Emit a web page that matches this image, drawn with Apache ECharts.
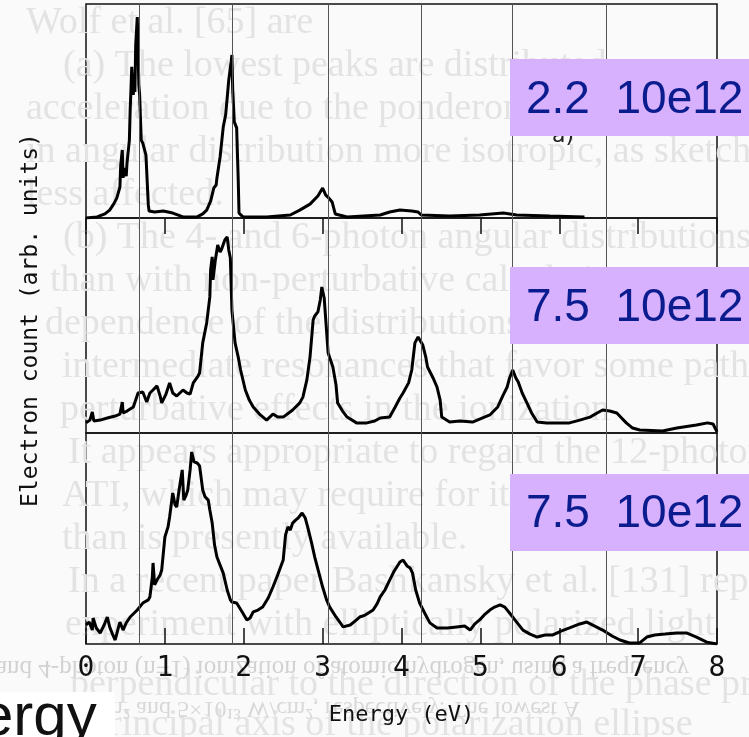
<!DOCTYPE html>
<html>
<head>
<meta charset="utf-8">
<script src="https://cdn.jsdelivr.net/npm/echarts@6/dist/echarts.min.js"></script>
<style>
html, body { margin: 0; padding: 0; background: #fafafa; }
#chart { width: 749px; height: 737px; }
</style>
</head>
<body>
<div id="chart"></div>
<script>
// energy (eV) / electron count (arb., 0-100 of panel height)
var spectrum_top = [
	[0.00,0],[0.14,0.5],[0.24,1.9],[0.30,3.7],[0.35,6.5],[0.39,9.3],[0.43,14.5],[0.44,24.8],[0.46,31.8],
	[0.47,18.7],[0.48,23.4],[0.51,19.6],[0.52,25.7],[0.55,36.4],[0.56,50.5],[0.57,59.8],[0.58,70.6],
	[0.60,57.5],[0.61,66.8],[0.62,58.9],[0.63,80.8],[0.65,93.9],[0.66,78.5],[0.67,62.1],[0.68,57.5],
	[0.70,36.4],[0.72,35],[0.76,29.4],[0.79,6.1],[0.80,3.3],[0.87,2.8],[0.98,3.3],[1.10,2.3],[1.23,0.5],
	[1.41,0.5],[1.48,1.9],[1.53,3.7],[1.58,7.9],[1.62,14.0],[1.65,15.4],[1.66,18.7],[1.70,28.5],
	[1.74,42.5],[1.77,48.1],[1.79,56.1],[1.81,64.5],[1.84,72.9],[1.85,76.2],[1.86,59.8],[1.88,44.9],
	[1.91,42.1],[1.93,17.8],[1.94,2.3],[1.99,0.5],[2.29,0.5],[2.59,1.4],[2.71,3.7],[2.84,6.5],
	[2.94,10.3],[3.00,14.0],[3.04,10.7],[3.08,9.3],[3.12,7.5],[3.16,1.9],[3.31,0.5],[3.73,1.4],
	[3.85,2.8],[3.98,3.7],[4.13,3.3],[4.21,2.8],[4.25,1.4],[4.61,0.9],[4.99,1.4],[5.29,2.3],
	[5.46,1.4],[5.88,0.9],[6.32,0.5]
];
var spectrum_mid = [
	[0.00,4.7],[0.05,6.0],[0.08,9.8],[0.10,5.6],[0.18,6.0],[0.27,7.0],[0.37,7.9],[0.43,8.8],[0.46,14.4],
	[0.47,9.3],[0.52,10.2],[0.60,12.1],[0.66,18.6],[0.72,19.1],[0.77,14.4],[0.81,18.6],[0.85,20.0],
	[0.90,21.9],[0.94,17.2],[0.96,14.0],[1.01,17.7],[1.06,23.3],[1.10,18.6],[1.15,17.2],[1.23,20.0],
	[1.28,18.6],[1.32,18.1],[1.36,23.3],[1.42,26.5],[1.44,27.9],[1.48,41.9],[1.53,51.2],[1.57,63.3],
	[1.58,75.8],[1.60,81.9],[1.61,71.2],[1.64,80.5],[1.67,87.4],[1.70,84.2],[1.72,85.6],[1.76,89.8],
	[1.79,91.2],[1.81,85.1],[1.83,81.4],[1.85,57.2],[1.89,41.9],[1.93,35.3],[1.96,29.3],[2.02,20.0],
	[2.07,15.3],[2.12,12.1],[2.21,8.4],[2.29,6.0],[2.37,8.8],[2.43,7.4],[2.50,7.4],[2.62,10.7],
	[2.71,14.0],[2.75,16.7],[2.80,24.7],[2.84,35.3],[2.88,52.6],[2.90,54.4],[2.94,56.3],[2.97,61.9],
	[2.99,67.9],[3.02,62.8],[3.04,61.9],[3.07,37.2],[3.13,30.7],[3.17,22.3],[3.19,14.0],[3.26,9.8],
	[3.31,7.4],[3.43,4.7],[3.56,4.7],[3.66,5.6],[3.73,7.0],[3.85,7.4],[3.92,12.1],[3.98,16.3],
	[4.02,18.6],[4.09,23.3],[4.13,29.3],[4.17,41.9],[4.21,44.7],[4.23,44.2],[4.27,40.9],[4.31,34.9],
	[4.33,30.7],[4.40,25.6],[4.45,21.4],[4.49,15.3],[4.51,7.4],[4.61,5.1],[4.74,5.6],[4.90,5.1],
	[5.12,8.4],[5.22,12.1],[5.29,17.7],[5.34,21.4],[5.37,25.6],[5.41,29.3],[5.45,25.6],[5.48,23.7],
	[5.53,18.6],[5.59,14.0],[5.65,9.3],[5.72,5.1],[5.84,4.7],[6.13,4.7],[6.26,6.0],[6.39,7.4],
	[6.48,9.3],[6.55,10.7],[6.64,10.2],[6.73,9.3],[6.79,7.0],[6.85,4.7],[6.93,2.3],[7.02,1.4],
	[7.31,0.9],[7.49,2.3],[7.74,3.7],[7.88,4.7],[7.95,4.2],[8.00,0.5]
];
var spectrum_bot = [
	[0.00,9.0],[0.04,10.4],[0.08,6.6],[0.09,12.3],[0.13,7.6],[0.18,5.2],[0.23,9.0],[0.27,12.8],
	[0.30,8.1],[0.34,4.3],[0.37,1.9],[0.41,7.6],[0.43,10.4],[0.47,6.6],[0.51,10.0],[0.56,12.8],
	[0.65,16.1],[0.72,19.4],[0.79,20.9],[0.81,22.3],[0.84,31.3],[0.85,38.4],[0.87,28.0],[0.90,30.3],
	[0.94,32.7],[0.96,35.1],[1.00,50.7],[1.04,55.5],[1.06,60.2],[1.10,71.6],[1.13,65.9],[1.15,64.9],
	[1.18,73.0],[1.22,82.5],[1.24,68.2],[1.27,70.6],[1.29,73.0],[1.32,82.5],[1.34,91.0],[1.37,86.3],
	[1.41,85.8],[1.44,84.4],[1.48,73.0],[1.51,69.7],[1.55,68.2],[1.57,63.5],[1.60,57.3],[1.63,46.9],
	[1.66,41.2],[1.70,37.4],[1.74,33.6],[1.79,25.6],[1.83,20.9],[1.85,19.9],[1.91,19.4],[1.98,15.2],
	[2.04,11.4],[2.08,12.3],[2.12,15.2],[2.18,16.1],[2.24,17.5],[2.31,21.8],[2.37,27.0],[2.43,32.7],
	[2.50,39.8],[2.53,51.7],[2.56,55.5],[2.59,54.0],[2.62,57.3],[2.66,58.8],[2.69,59.7],[2.74,62.1],
	[2.78,59.7],[2.81,55.5],[2.86,47.9],[2.90,41.2],[2.95,34.1],[3.00,27.0],[3.05,20.9],[3.09,17.5],
	[3.17,12.8],[3.26,8.1],[3.35,9.0],[3.43,11.4],[3.47,12.8],[3.54,13.7],[3.64,16.1],[3.69,19.0],
	[3.73,22.3],[3.79,25.6],[3.85,30.3],[3.90,34.1],[3.94,36.5],[3.98,38.9],[4.02,39.8],[4.07,37.0],
	[4.11,36.0],[4.14,33.6],[4.18,25.6],[4.23,19.4],[4.30,14.2],[4.36,10.0],[4.45,7.6],[4.58,7.6],
	[4.70,8.1],[4.80,8.5],[4.87,6.6],[4.93,9.5],[4.99,11.4],[5.06,14.2],[5.12,16.1],[5.18,17.5],
	[5.25,18.5],[5.31,17.5],[5.37,14.7],[5.46,10.4],[5.54,6.6],[5.63,4.7],[5.72,3.3],[5.82,4.3],
	[5.92,4.3],[6.03,6.2],[6.13,7.6],[6.26,9.5],[6.35,10.4],[6.45,8.5],[6.55,6.6],[6.67,3.8],
	[6.77,1.9],[6.89,0.5],[7.02,0.5],[7.11,3.3],[7.21,4.3],[7.34,4.7],[7.49,5.2],[7.62,5.2],
	[7.74,3.3],[7.87,0.9],[8.00,0]
];
// the thin vertical lines of the scanned figure
var photon_lines = [0.68, 1.85, 3.07, 4.25, 5.41, 6.60];
var panel_labels = ['2.2  10e12', '7.5  10e12', '7.5  10e12'];

// faint text of the scanned page behind the figure
var page_lines = [
	'Wolf et al. [65] are',
	'(a) The lowest peaks are distributed',
	'acceleration due to the ponderomotive',
	'in angular distribution more isotropic, as sketched',
	'less affected.',
	'(b) The 4- and 6-photon angular distributions',
	'than with non-perturbative calculations',
	'dependence of the distributions on',
	'intermediate resonances that favor some pathways',
	'perturbative effects in the ionization',
	'It appears appropriate to regard the 12-photon',
	'ATI, which may require for its',
	'than is presently available.',
	'In a recent paper Bashkansky et al. [131] report',
	'experiment with elliptically polarized light',
	'perpendicular to the direction of the phase propagation',
	'principal axis of the polarization ellipse'
];
var page_line_x = [26, 63, 26, 26, 26, 63, 50, 45, 62, 60, 68, 62, 62, 68, 65, 70, 90];
var page_line_y = [35, 78, 121, 164, 207, 250, 293, 336, 379, 422, 465, 508, 551, 594, 637, 697, 737];

var chartDom = document.getElementById('chart');
var myChart = echarts.init(chartDom);
var option;

var graphics = [];
for (var i = 0; i < page_lines.length; i++) {
	graphics.push({
		type: 'text', x: page_line_x[i], y: page_line_y[i] - 12, z: 0, silent: true,
		style: { text: page_lines[i], font: '38px "Liberation Serif"', fill: '#e3e3e3', textVerticalAlign: 'middle' }
	});
}
graphics.push({
	type: 'text', x: -4, y: 668, scaleY: -1, z: 0, silent: true,
	style: { text: 'and 4-photon (n=1) ionization of atomic hydrogen, using a frequency', font: '25px "Liberation Serif"', fill: '#d2d2d2', textVerticalAlign: 'middle' }
});
graphics.push({
	type: 'text', x: 20, y: 708, scaleY: -1, z: 0, silent: true,
	style: { text: '10\u00b9\u00b3 W/cm\u00b2 and 5\u00d710\u00b9\u00b3 W/cm\u00b2, respectively. The lowest A', font: '24px "Liberation Serif"', fill: '#d8d8d8', textVerticalAlign: 'middle' }
});

var box_y = [59, 267, 474];
var text_y = [100.5, 308.5, 514];
for (var j = 0; j < 3; j++) {
	graphics.push({
		type: 'rect', z: 20, silent: true,
		shape: { x: 510, y: box_y[j], width: 239, height: 77 },
		style: { fill: '#d7b1fe' }
	});
	graphics.push({
		type: 'text', x: 526, y: text_y[j], z: 21, silent: true,
		style: { text: panel_labels[j], font: '46px "Liberation Sans"', fill: '#0b1c8f', textVerticalAlign: 'middle' }
	});
}
// panel tag peeking below the first label
graphics.push({
	type: 'text', x: 552, y: 136, z: 5, silent: true,
	style: { text: 'a)', font: '22px "DejaVu Sans"', fill: '#222', textVerticalAlign: 'middle' }
});
graphics.push({
	type: 'text', x: 31, y: 320, rotation: Math.PI / 2, z: 5, silent: true,
	style: { text: 'Electron count (arb. units)', font: '23px "DejaVu Sans Mono"', fill: '#111', textAlign: 'center', textVerticalAlign: 'middle' }
});
graphics.push({
	type: 'rect', z: 20, silent: true,
	shape: { x: 0, y: 692, width: 115, height: 45 },
	style: { fill: '#ffffff' }
});
graphics.push({
	type: 'text', x: -20, y: 718, z: 21, silent: true,
	style: { text: 'ergy', font: '60px "Liberation Sans"', fill: '#111', textVerticalAlign: 'middle' }
});

function panel_series(data, idx) {
	return {
		type: 'line',
		xAxisIndex: idx,
		yAxisIndex: idx,
		data: data,
		showSymbol: false,
		lineStyle: { color: '#000', width: 3 },
		markLine: {
			silent: true,
			symbol: 'none',
			label: { show: false },
			lineStyle: { color: '#555', width: 1, type: 'solid' },
			data: photon_lines.map(function (v) { return { xAxis: v }; })
		}
	};
}

var frame = { show: true, borderColor: '#111', borderWidth: 1.5, backgroundColor: 'transparent' };

option = {
	backgroundColor: '#fafafa',
	animation: false,
	grid: [
		Object.assign({ left: 86, right: 32, top: 4, height: 214 }, frame),
		Object.assign({ left: 86, right: 32, top: 218, height: 215 }, frame),
		Object.assign({ left: 86, right: 32, top: 433, height: 211 }, frame)
	],
	xAxis: [
		{
			gridIndex: 0, type: 'value', min: 0, max: 8, interval: 1, position: 'top',
			axisLine: { show: false },
			axisTick: { inside: true, length: 16, lineStyle: { color: '#111', width: 1.5 } },
			axisLabel: { show: false },
			splitLine: { show: false }
		},
		{ gridIndex: 1, type: 'value', min: 0, max: 8, show: false },
		{
			gridIndex: 2, type: 'value', min: 0, max: 8, interval: 1, position: 'bottom',
			axisLine: { show: false },
			axisTick: { inside: true, length: 16, lineStyle: { color: '#111', width: 1.5 } },
			axisLabel: { fontFamily: 'DejaVu Sans Mono', fontSize: 28, color: '#111', margin: 11 },
			splitLine: { show: false },
			name: 'Energy (eV)',
			nameLocation: 'middle',
			nameGap: 60,
			nameTextStyle: { fontFamily: 'DejaVu Sans Mono', fontSize: 22, color: '#111' }
		}
	],
	yAxis: [
		{ gridIndex: 0, type: 'value', min: 0, max: 100, show: false },
		{ gridIndex: 1, type: 'value', min: 0, max: 100, show: false },
		{ gridIndex: 2, type: 'value', min: 0, max: 100, show: false }
	],
	graphic: graphics,
	series: [
		panel_series(spectrum_top, 0),
		panel_series(spectrum_mid, 1),
		panel_series(spectrum_bot, 2)
	]
};

option && myChart.setOption(option);
</script>
</body>
</html>
